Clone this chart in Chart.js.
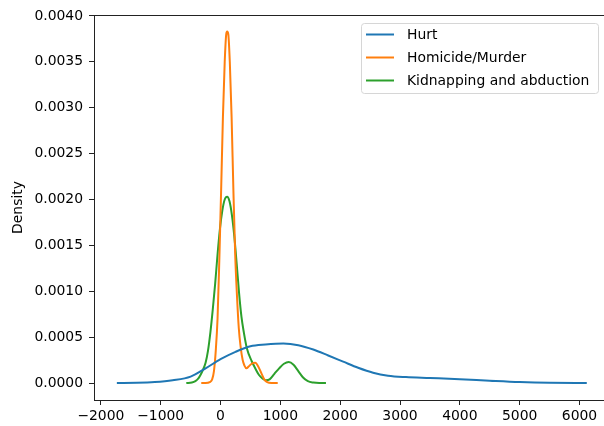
<!DOCTYPE html>
<html>
<head>
<meta charset="utf-8">
<script src="https://cdn.jsdelivr.net/npm/chart.js@4/dist/chart.umd.min.js"></script>
<style>
  html, body { margin: 0; padding: 0; background: #fff; }
  body { width: 604px; height: 426px; overflow: hidden; }
  canvas { display: block; }
</style>
</head>
<body>
<canvas id="kde" width="620" height="426"></canvas>
<script>
// series names
const seriesNames = ["Hurt", "Homicide/Murder", "Kidnapping and abduction"];
const seriesColors = ["#1f77b4", "#ff7f0e", "#2ca02c"];

// Hurt density curve
const hurtX = [-1733, -1400, -1100, -800, -500, -250, 0, 250, 500, 750, 1050, 1300, 1550, 1800, 2050, 2300, 2550, 2800, 3100, 3500, 4000, 4500, 5000, 5500, 6122];
const hurtY = [0, 0.000002, 0.00001, 0.00003, 0.00007, 0.00016, 0.00026, 0.00034, 0.0004, 0.000419, 0.00043, 0.000412, 0.000365, 0.0003, 0.000233, 0.000166, 0.000112, 0.00008, 0.000065, 0.000055, 0.000042, 0.000025, 0.00001, 0.000002, 0];

// Homicide/Murder density curve
const murderX = [-322, -250, -180, -140, -110, -80, -50, -20, 10, 40, 70, 95, 111, 130, 155, 185, 215, 245, 275, 305, 335, 370, 400, 433, 470, 520, 580, 630, 680, 730, 780, 850, 956];
const murderY = [0, 0, 0.00001, 0.00004, 0.00013, 0.00035, 0.0007, 0.00135, 0.0021, 0.0029, 0.0035, 0.0038, 0.00383, 0.0038, 0.0035, 0.0029, 0.0021, 0.0014, 0.00095, 0.0006, 0.0004, 0.00025, 0.00019, 0.00016, 0.00018, 0.00021, 0.00022, 0.00018, 0.00011, 0.00004, 0.00001, 0, 0];

// Kidnapping and abduction density curve
const kidnapX = [-572, -480, -420, -370, -333, -290, -250, -210, -170, -130, -90, -50, -10, 30, 70, 110, 150, 190, 230, 270, 310, 350, 390, 440, 520, 580, 640, 700, 760, 820, 900, 980, 1060, 1140, 1220, 1300, 1380, 1460, 1550, 1650, 1762];
const kidnapY = [0, 0.000005, 0.00002, 0.00005, 0.00009, 0.00015, 0.00022, 0.00035, 0.00055, 0.0008, 0.00108, 0.0014, 0.00168, 0.00188, 0.002, 0.00203, 0.00198, 0.00183, 0.0016, 0.0013, 0.00098, 0.00072, 0.00055, 0.00038, 0.00024, 0.00016, 0.00009, 0.00005, 0.00003, 0.00004, 0.0001, 0.00016, 0.00021, 0.00023, 0.0002, 0.00013, 0.00006, 0.00002, 0.000005, 0, 0];

// tick values
const xTicks = [-2000, -1000, 0, 1000, 2000, 3000, 4000, 5000, 6000];
const yTicks = [0, 0.0005, 0.001, 0.0015, 0.002, 0.0025, 0.003, 0.0035, 0.004];

const FONT = '"DejaVu Sans", sans-serif';

function toPoints(xs, ys) {
  return xs.map((x, i) => ({ x: x, y: ys[i] }));
}

function makeDataset(i, xs, ys) {
  return {
    label: seriesNames[i],
    data: toPoints(xs, ys),
    borderColor: seriesColors[i],
    backgroundColor: seriesColors[i],
    borderWidth: 2,
    pointRadius: 0,
    showLine: true,
    cubicInterpolationMode: "monotone"
  };
}

// matplotlib style frame (all four spines)
const framePlugin = {
  id: "frame",
  afterDraw(chart) {
    const a = chart.chartArea;
    const ctx = chart.ctx;
    ctx.save();
    ctx.strokeStyle = "#222";
    ctx.lineWidth = 1;
    ctx.strokeRect(Math.round(a.left) + 0.5, Math.round(a.top) + 0.5, Math.round(a.right - a.left), Math.round(a.bottom - a.top));
    ctx.restore();
  }
};

// legend box in the top right corner like matplotlib's
const legendPlugin = {
  id: "mplLegend",
  afterDraw(chart) {
    const ctx = chart.ctx;
    const x0 = 361, y0 = 23, w = 237, h = 70, r = 3;
    ctx.save();
    ctx.beginPath();
    ctx.roundRect(x0 + 0.5, y0 + 0.5, w, h, r);
    ctx.fillStyle = "rgba(255,255,255,0.8)";
    ctx.fill();
    ctx.strokeStyle = "#d6d6d6";
    ctx.lineWidth = 1;
    ctx.stroke();
    ctx.font = "13.9px " + FONT;
    ctx.textBaseline = "middle";
    chart.data.datasets.forEach((ds, i) => {
      const y = 34.5 + i * 23;
      ctx.strokeStyle = ds.borderColor;
      ctx.lineWidth = 2;
      ctx.beginPath();
      ctx.moveTo(366, y);
      ctx.lineTo(394, y);
      ctx.stroke();
      ctx.fillStyle = "#000";
      ctx.fillText(ds.label, 407, y + 1);
    });
    ctx.restore();
  }
};

const minus = v => String(v).replace("-", "\u2212");

new Chart(document.getElementById("kde"), {
  type: "scatter",
  data: {
    datasets: [
      makeDataset(0, hurtX, hurtY),
      makeDataset(1, murderX, murderY),
      makeDataset(2, kidnapX, kidnapY)
    ]
  },
  options: {
    responsive: false,
    animation: false,
    devicePixelRatio: 1,
    layout: { padding: { left: 0, top: 15, right: 10, bottom: 0 } },
    plugins: {
      legend: { display: false },
      tooltip: { enabled: false }
    },
    scales: {
      x: {
        type: "linear",
        min: -2115,
        max: 6510,
        afterFit: s => { s.height = 26; },
        afterBuildTicks: s => { s.ticks = xTicks.map(v => ({ value: v })); },
        grid: { drawOnChartArea: false, drawTicks: true, tickLength: 5, color: "#222" },
        border: { display: true, color: "#222", width: 1 },
        ticks: {
          color: "#000",
          font: { family: FONT, size: 13.9 },
          padding: 3,
          maxRotation: 0,
          autoSkip: false,
          callback: v => minus(v)
        }
      },
      y: {
        type: "linear",
        min: -0.000185,
        max: 0.00401,
        afterFit: s => { s.width = 94; },
        afterBuildTicks: s => { s.ticks = yTicks.map(v => ({ value: v })); },
        grid: { drawOnChartArea: false, drawTicks: true, tickLength: 5, color: "#222" },
        border: { display: true, color: "#222", width: 1 },
        title: {
          display: true,
          text: "Density",
          color: "#000",
          font: { family: FONT, size: 13.9 },
          padding: { top: 10, bottom: 0 }
        },
        ticks: {
          color: "#000",
          font: { family: FONT, size: 13.9 },
          padding: 6,
          autoSkip: false,
          callback: v => v.toFixed(4)
        }
      }
    }
  },
  plugins: [framePlugin, legendPlugin]
});
</script>
</body>
</html>
